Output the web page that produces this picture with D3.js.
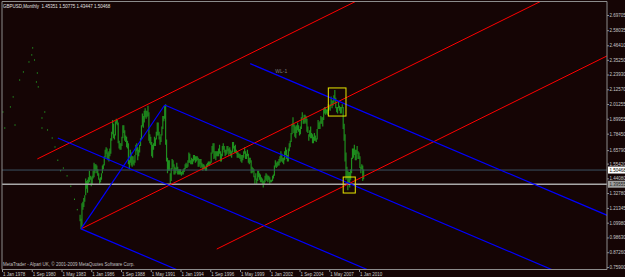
<!DOCTYPE html>
<html>
<head>
<meta charset="utf-8">
<script src="https://cdnjs.cloudflare.com/ajax/libs/d3/7.8.5/d3.min.js"></script>
<style>
  body { margin: 0; background: #150505; }
  svg { display: block; }
  text { font-family: "Liberation Sans", Arial, sans-serif; }
</style>
</head>
<body>
<div id="chart"></div>
<script>
// GBPUSD monthly, bars from Jan 1985 (month index 84, counted from Jan 1978)
var firstBarMonth = 84;

var monthHigh = [
  1.16,1.13,1.25,1.26,1.29,1.31,1.44,1.42,1.43,1.45,1.50,1.46, // 1985
  1.45,1.46,1.50,1.56,1.55,1.55,1.54,1.51,1.48,1.44,1.45,1.48, // 1986
  1.54,1.55,1.61,1.66,1.68,1.67,1.64,1.65,1.67,1.75,1.80,1.89, // 1987
  1.86,1.78,1.88,1.90,1.89,1.87,1.73,1.71,1.71,1.76,1.85,1.85, // 1988
  1.81,1.77,1.76,1.73,1.71,1.58,1.66,1.64,1.61,1.61,1.58,1.62, // 1989
  1.70,1.71,1.68,1.66,1.70,1.75,1.85,1.94,1.92,1.96,1.98,1.96, // 1990
  1.96,2.00,1.95,1.78,1.76,1.72,1.70,1.71,1.76,1.75,1.80,1.87, // 1991
  1.87,1.80,1.76,1.78,1.84,1.92,1.92,2.00,2.01,1.74,1.60,1.58, // 1992
  1.58,1.48,1.52,1.59,1.58,1.55,1.53,1.52,1.56,1.53,1.51,1.51, // 1993
  1.51,1.49,1.50,1.51,1.52,1.55,1.56,1.55,1.58,1.64,1.63,1.58, // 1994
  1.60,1.59,1.62,1.62,1.61,1.61,1.61,1.60,1.59,1.59,1.59,1.56, // 1995
  1.55,1.55,1.54,1.53,1.55,1.56,1.57,1.57,1.57,1.64,1.69,1.71, // 1996
  1.71,1.65,1.65,1.65,1.65,1.67,1.70,1.65,1.63,1.69,1.71,1.69, // 1997
  1.66,1.66,1.69,1.69,1.67,1.68,1.66,1.65,1.72,1.72,1.69,1.70, // 1998
  1.66,1.65,1.64,1.63,1.63,1.62,1.62,1.62,1.65,1.68,1.65,1.63, // 1999
  1.66,1.63,1.60,1.60,1.58,1.53,1.52,1.51,1.46,1.48,1.44,1.50, // 2000
  1.50,1.48,1.47,1.45,1.44,1.42,1.43,1.46,1.48,1.47,1.46,1.46, // 2001
  1.45,1.43,1.43,1.46,1.47,1.54,1.58,1.56,1.57,1.57,1.59,1.61, // 2002
  1.65,1.63,1.60,1.60,1.65,1.68,1.66,1.62,1.67,1.71,1.73,1.79, // 2003
  1.86,1.91,1.86,1.85,1.84,1.85,1.87,1.85,1.82,1.84,1.91,1.95, // 2004
  1.90,1.93,1.93,1.92,1.90,1.84,1.78,1.81,1.84,1.79,1.78,1.76, // 2005
  1.79,1.77,1.75,1.82,1.89,1.87,1.88,1.92,1.91,1.91,1.98,1.99, // 2006
  1.99,1.97,1.97,2.01,2.00,2.01,2.07,2.04,2.04,2.08,2.12,2.06, // 2007
  1.99,1.99,2.03,2.00,1.99,1.99,2.01,1.99,1.86,1.78,1.64,1.53, // 2008
  1.50,1.49,1.49,1.51,1.60,1.67,1.67,1.70,1.66,1.66,1.69,1.65, // 2009
  1.64,1.61,1.53,1.55,1.54,1.508                               // 2010
];

var monthLow = [
  1.11,1.05,1.07,1.20,1.22,1.26,1.31,1.36,1.33,1.40,1.41,1.43,
  1.38,1.39,1.44,1.45,1.48,1.50,1.48,1.46,1.43,1.40,1.41,1.43,
  1.48,1.51,1.54,1.60,1.63,1.59,1.58,1.57,1.61,1.63,1.73,1.78,
  1.75,1.74,1.77,1.86,1.85,1.71,1.67,1.66,1.66,1.69,1.75,1.79,
  1.73,1.72,1.68,1.67,1.55,1.51,1.56,1.54,1.53,1.55,1.54,1.56,
  1.62,1.65,1.58,1.61,1.64,1.69,1.74,1.84,1.83,1.87,1.91,1.90,
  1.91,1.92,1.73,1.71,1.70,1.61,1.60,1.66,1.69,1.69,1.74,1.77,
  1.77,1.74,1.70,1.72,1.77,1.82,1.88,1.90,1.70,1.57,1.48,1.50,
  1.50,1.40,1.42,1.51,1.53,1.47,1.47,1.48,1.50,1.47,1.47,1.47,
  1.47,1.46,1.47,1.47,1.49,1.51,1.52,1.52,1.53,1.56,1.56,1.55,
  1.55,1.55,1.57,1.58,1.56,1.57,1.58,1.53,1.53,1.55,1.52,1.53,
  1.50,1.51,1.51,1.50,1.50,1.53,1.54,1.54,1.55,1.56,1.63,1.64,
  1.59,1.60,1.58,1.61,1.61,1.61,1.63,1.57,1.57,1.61,1.66,1.64,
  1.61,1.62,1.63,1.65,1.61,1.63,1.61,1.60,1.64,1.67,1.64,1.64,
  1.63,1.60,1.60,1.60,1.59,1.57,1.56,1.58,1.60,1.63,1.59,1.59,
  1.61,1.56,1.55,1.56,1.48,1.48,1.49,1.45,1.40,1.43,1.40,1.42,
  1.45,1.43,1.41,1.41,1.40,1.37,1.39,1.41,1.43,1.42,1.41,1.43,
  1.40,1.41,1.41,1.42,1.44,1.46,1.53,1.52,1.53,1.54,1.54,1.56,
  1.57,1.57,1.56,1.55,1.58,1.62,1.59,1.57,1.57,1.65,1.68,1.72,
  1.78,1.84,1.79,1.76,1.75,1.79,1.81,1.80,1.77,1.78,1.82,1.90,
  1.86,1.86,1.87,1.86,1.80,1.79,1.73,1.76,1.75,1.75,1.71,1.71,
  1.73,1.73,1.72,1.74,1.82,1.82,1.82,1.86,1.86,1.84,1.89,1.94,
  1.93,1.94,1.93,1.96,1.97,1.96,2.00,1.98,2.00,2.02,2.04,1.98,
  1.95,1.94,1.98,1.96,1.94,1.94,1.98,1.82,1.73,1.57,1.43,1.44,
  1.35,1.40,1.37,1.43,1.48,1.59,1.60,1.62,1.58,1.58,1.63,1.59,
  1.59,1.52,1.48,1.51,1.42,1.434
];

// sparse early history, shown as dots: [month index, price]
var earlyDots = [
  [1,1.951],[3,1.828],[9,1.990],[12,2.067],[14,1.851],[19,2.197],[23,2.259],
  [29,2.336],[32,2.390],[33,2.444],[35,2.351],[37,2.182],[38,2.251],[39,2.144],
  [43,1.905],[43,1.828],[46,1.951],[49,1.813],[54,1.751],[57,1.682],
  [60,1.58],[63,1.50],[66,1.52],[70,1.46],[74,1.38],[78,1.28],[81,1.20]
];

var priceTicks = [2.69705, 2.58035, 2.46410, 2.35250, 2.23930, 2.12570, 2.01255, 1.89955,
  1.78450, 1.65790, 1.55420, 1.44080, 1.32780, 1.21345, 1.09980, 0.98630, 0.87260, 0.75900];

var dateTicks = [0, 32, 64, 96, 128, 160, 192, 224, 256, 288, 320, 352, 384];
var dateLabels = ["1 Jan 1978", "1 Sep 1980", "1 May 1983", "1 Jan 1986", "1 Sep 1988", "1 May 1991",
  "1 Jan 1994", "1 Sep 1996", "1 May 1999", "1 Jan 2002", "1 Sep 2004", "1 May 2007", "1 Jan 2010"];

// chart objects, anchors as [month index, price]
var redRays = [
  [[38, 1.590], [300, 2.517]],
  [[85, 1.052], [300, 1.813]],
  [[231, 0.897], [400, 1.495]]
];
var blueRays = [
  [[60, 1.751], [300, 1.0214]],
  [[85, 1.052], [300, 0.398]],
  [[175, 2.005], [400, 1.321]],
  [[267, 2.323], [500, 1.615]]
];
var blueSegment = [[85, 1.052], [175, 2.005]];
var boxes = [
  [[351, 2.136], [370, 1.920]],
  [[367, 1.451], [380, 1.328]]
];

var bidPrice = 1.50468;
var levelPrice = 1.39555;
var title = "GBPUSD,Monthly  1.45351 1.50775 1.43447 1.50468";
var footer = "MetaTrader - Alpari UK, \u00a9 2001-2009 MetaQuotes Software Corp.";

// ---- layout
var svgWidth = 625, svgHeight = 277;
var plot = { left: 2, top: 1.5, right: 607, bottom: 269.5 };
var fontSize = 4.5;

var svg = d3.select("#chart").append("svg")
  .attr("width", svgWidth)
  .attr("height", svgHeight);

svg.append("rect").attr("width", svgWidth).attr("height", svgHeight).attr("fill", "#150505");

svg.append("clipPath").attr("id", "plotclip")
  .append("rect")
  .attr("x", plot.left).attr("y", plot.top)
  .attr("width", plot.right - plot.left).attr("height", plot.bottom - plot.top);

var x = d3.scaleLinear().domain([0, 384]).range([2, 359]);
var y = d3.scaleLinear().domain([0.759, 2.69705]).range([267, 15]);

var chart = svg.append("g").attr("clip-path", "url(#plotclip)");

// early dots
chart.selectAll("rect.dot")
  .data(earlyDots)
  .enter()
  .append("rect")
  .attr("class", "dot")
  .attr("x", d => x(d[0]) - 0.5)
  .attr("y", d => y(d[1]) - 0.7)
  .attr("width", 1)
  .attr("height", 1.4)
  .attr("fill", "#229622");

// monthly bars
chart.selectAll("line.bar")
  .data(monthHigh)
  .enter()
  .append("line")
  .attr("class", "bar")
  .attr("x1", (d, i) => x(firstBarMonth + i))
  .attr("x2", (d, i) => x(firstBarMonth + i))
  .attr("y1", d => y(d))
  .attr("y2", (d, i) => y(monthLow[i]))
  .attr("stroke", "#1f8f1f")
  .attr("stroke-width", 1.2);

// horizontal lines
chart.append("line")
  .attr("x1", plot.left).attr("x2", plot.right)
  .attr("y1", y(bidPrice)).attr("y2", y(bidPrice))
  .attr("stroke", "#3a5262").attr("stroke-width", 1);

chart.append("line")
  .attr("x1", plot.left).attr("x2", plot.right)
  .attr("y1", y(levelPrice)).attr("y2", y(levelPrice))
  .attr("stroke", "#a8a8a8").attr("stroke-width", 1.6);

// rays extend to the right edge
function extend(r) {
  var s = (r[1][1] - r[0][1]) / (r[1][0] - r[0][0]);
  var end = 700;
  return [r[0], [end, r[0][1] + s * (end - r[0][0])]];
}
var line = d3.line().x(d => x(d[0])).y(d => y(d[1]));

chart.selectAll("path.red")
  .data(redRays)
  .enter()
  .append("path")
  .attr("class", "red")
  .attr("d", d => line(extend(d)))
  .attr("fill", "none")
  .attr("stroke", "#ff0000")
  .attr("stroke-width", 1);

chart.selectAll("path.blue")
  .data(blueRays)
  .enter()
  .append("path")
  .attr("class", "blue")
  .attr("d", d => line(extend(d)))
  .attr("fill", "none")
  .attr("stroke", "#0000ff")
  .attr("stroke-width", 1.2);

chart.append("path")
  .attr("d", line(blueSegment))
  .attr("fill", "none")
  .attr("stroke", "#0000ff")
  .attr("stroke-width", 1.2);

// WL-1 label on the outer blue line
var wl = extend(blueRays[3]);
var wlMonth = 294;
var wlPrice = wl[0][1] + (wl[1][1] - wl[0][1]) / (wl[1][0] - wl[0][0]) * (wlMonth - wl[0][0]);
chart.append("text")
  .attr("x", x(wlMonth))
  .attr("y", y(wlPrice) - 1.5)
  .attr("font-size", 5)
  .attr("fill", "#7a7a7a")
  .text("WL-1");

chart.selectAll("rect.box")
  .data(boxes)
  .enter()
  .append("rect")
  .attr("class", "box")
  .attr("x", d => x(d[0][0]))
  .attr("y", d => y(d[0][1]))
  .attr("width", d => x(d[1][0]) - x(d[0][0]))
  .attr("height", d => y(d[1][1]) - y(d[0][1]))
  .attr("fill", "none")
  .attr("stroke", "#e8e800")
  .attr("stroke-width", 1);

// frame
svg.append("path")
  .attr("d", `M${plot.left},${plot.bottom}V${plot.top}H${plot.right}V${plot.bottom}H${plot.left}`)
  .attr("fill", "none")
  .attr("stroke", "#8c8c8c")
  .attr("stroke-width", 1);

// price axis
var yAxis = svg.append("g")
  .attr("transform", `translate(${plot.right}, 0)`)
  .call(d3.axisRight(y).tickValues(priceTicks).tickSize(2).tickFormat(d3.format(".5f")));
yAxis.select(".domain").remove();
yAxis.selectAll("line").attr("stroke", "#8c8c8c");
yAxis.selectAll("text")
  .attr("x", 2.5)
  .attr("font-size", fontSize)
  .attr("font-family", "Liberation Sans, Arial, sans-serif")
  .attr("fill", "#c8c8c8");

// highlighted price labels
function priceTag(p, bg, fg) {
  svg.append("rect")
    .attr("x", plot.right + 1).attr("y", y(p) - 3.5)
    .attr("width", 20).attr("height", 7)
    .attr("fill", bg);
  svg.append("text")
    .attr("x", plot.right + 2.5).attr("y", y(p) + 1.6)
    .attr("font-size", fontSize)
    .attr("fill", fg)
    .text(d3.format(".5f")(p));
}
priceTag(bidPrice, "#ffffff", "#000000");
priceTag(levelPrice, "#a0a0a0", "#202020");

// date axis
var xAxis = svg.append("g")
  .attr("transform", `translate(0, ${plot.bottom})`)
  .call(d3.axisBottom(x).tickValues(dateTicks).tickSize(2.5).tickFormat((d, i) => dateLabels[i]));
xAxis.select(".domain").remove();
xAxis.selectAll("line").attr("stroke", "#8c8c8c");
xAxis.selectAll("text")
  .attr("y", 6)
  .attr("dy", 0)
  .attr("x", 0.5)
  .attr("text-anchor", "start")
  .attr("font-size", fontSize)
  .attr("font-family", "Liberation Sans, Arial, sans-serif")
  .attr("fill", "#c8c8c8");

// texts
svg.append("text")
  .attr("x", 3).attr("y", 7.5)
  .attr("font-size", fontSize)
  .attr("fill", "#e0e0e0")
  .style("white-space", "pre")
  .text(title);

svg.append("text")
  .attr("x", 3).attr("y", 266)
  .attr("font-size", fontSize)
  .attr("fill", "#c0c0c0")
  .text(footer);
</script>
</body>
</html>
